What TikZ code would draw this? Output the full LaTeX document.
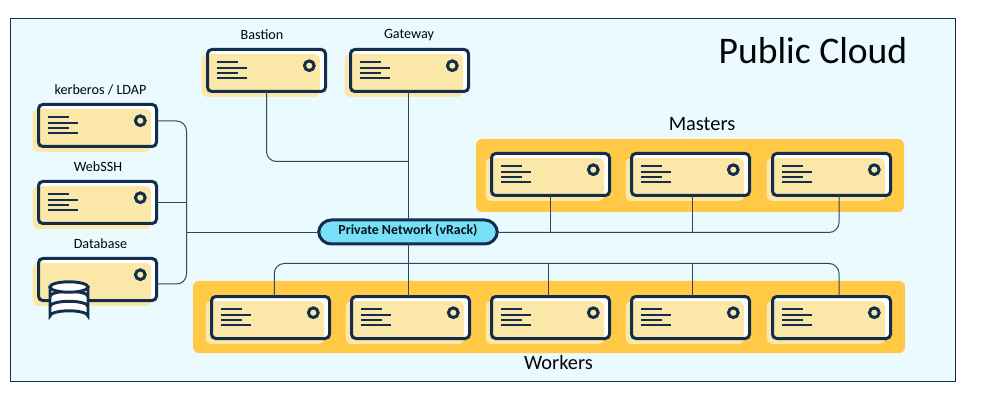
\documentclass[tikz,border=0pt]{standalone}
\usepackage{fontspec}
\setmainfont{Carlito}
\definecolor{navy}{HTML}{122E4C}
\definecolor{panelbg}{HTML}{EBFAFF}
\definecolor{cream}{HTML}{FBE8A8}
\definecolor{amber}{HTML}{FFC845}
\definecolor{sky}{HTML}{78E0F6}
\tikzset{
  frame/.style={draw=navy,line width=2.25pt,rounded corners=3.2pt,minimum width=88.5pt,minimum height=31.5pt,inner sep=0pt,outer sep=0pt},
  wire/.style={draw=navy!88!white,line width=0.75pt,rounded corners=7.5pt},
  lbl/.style={font=\fontsize{10.6pt}{12pt}\selectfont,text=black!90!navy,inner sep=0pt},
  grouplbl/.style={font=\fontsize{15.3pt}{17pt}\selectfont,text=black!90!navy,inner sep=0pt},
  bar/.style={draw=navy,line width=1.3pt},
  ring/.style={draw=navy,line width=2.25pt,fill=cream},
  groupbox/.style={fill=amber,rounded corners=4.5pt},
  dbpart/.style={draw=navy,line width=2.2pt,fill=white}
}
\newcommand{\srvbase}[3]{%
  \fill[white,rounded corners=3.2pt] (#2+1,#3+1) rectangle ++(119,43);
  \fill[cream,rounded corners=4pt] (#2-4.5,#3+6) rectangle (#2+114,#3+49);
  \node[frame] (#1) at (#2+60.5,#3+22.5) {};
  \draw[ring] (#2+103.3,#3+17.7) circle (4.85);
}
\newcommand{\srv}[3]{%
  \srvbase{#1}{#2}{#3}
  \draw[bar] (#2+11,#3+14.3) -- ++(21,0) (#2+11,#3+19.7) -- ++(30,0) (#2+11,#3+24.7) -- ++(21,0) (#2+11,#3+30) -- ++(30,0);
}
\begin{document}
\begin{tikzpicture}[x=0.75pt,y=-0.75pt]
\useasboundingbox (0,0) rectangle (1005,416);
\node[draw=navy,line width=0.9pt,fill=panelbg,minimum width=708.75pt,minimum height=272.25pt,inner sep=0pt,outer sep=0pt] (panel) at (483,200) {};
\node[groupbox,minimum width=321pt,minimum height=54.75pt,inner sep=0pt] (mgroup) at (690,175.5) {};
\node[groupbox,minimum width=534pt,minimum height=54pt,inner sep=0pt] (wgroup) at (549,317) {};
\srv{bastion}{206}{48}
\srv{gateway}{349}{48}
\srv{kerb}{37}{103}
\srv{webssh}{37}{180}
\srvbase{db}{37}{257}
\srv{m1}{490}{152}
\srv{m2}{630}{152}
\srv{m3}{771}{152}
\srv{w1}{210}{295}
\srv{w2}{350}{295}
\srv{w3}{490}{295}
\srv{w4}{630}{295}
\srv{w5}{771}{295}
\node[draw=navy,line width=2.25pt,fill=sky,rounded corners=9.5pt,minimum width=134pt,minimum height=18pt,inner sep=0pt,outer sep=0pt,font=\fontsize{10.4pt}{12pt}\selectfont\bfseries,text=black!60!navy] (net) at (408,232) {\raisebox{3.6pt}{Private Network (vRack)}};
% labels
\node[lbl] (lbast) at (262,35) {Bastion};
\node[lbl] (lgate) at (409,35) {Gateway};
\node[lbl] (lkerb) at (100.5,90) {kerberos / LDAP};
\node[lbl] (lweb) at (98,167) {WebSSH};
\node[lbl] (ldb) at (100.5,244) {Database};
\node[grouplbl] (lm) at (702,124) {Masters};
\node[grouplbl] (lw) at (558.5,362.4) {Workers};
\node[font=\fontsize{28.2pt}{30pt}\selectfont,text=black!90!navy,inner sep=0pt] (ltitle) at (813,51) {Public Cloud};
% junctions
\coordinate (busL) at (186.5,232.5);
\coordinate (bastJ) at (408.3,161.5);
\coordinate (mtap2) at (692.3,232.5);
\coordinate (mend) at (839,232.5);
\coordinate (wtopL) at (274.3,263.5);
\coordinate (wtopR) at (839,263.5);
\coordinate (wtap2) at (408.3,263.5);
\coordinate (wtap3) at (548.3,263.5);
\coordinate (wtap4) at (692.3,263.5);
% left bus
\draw[wire] (kerb.east |- 0,121) -| (busL);
\draw[wire] (db.east |- 0,284) -| (busL);
\draw[wire] (webssh.east) -- (webssh.east -| busL);
\draw[wire] (busL) -- (net.west |- busL);
% top
\draw[wire] (gateway.south -| bastJ) -- (net.north -| bastJ);
\draw[wire] (bastion.south) |- (bastJ);
% masters
\draw[wire] (net.east |- mend) -| (m3.south -| mend);
\draw[wire] (m1.south) -- (m1.south |- mend);
\draw[wire] (m2.south -| mtap2) -- (mtap2);
% workers
\draw[wire] (net.south -| wtap2) -- (w2.north -| wtap2);
\draw[wire] (w1.north -| wtopL) |- (wtopR) -- (w5.north -| wtopR);
\draw[wire] (wtap3) -- (w3.north -| wtap3);
\draw[wire] (wtap4) -- (w4.north -| wtap4);
% database icon
\path[dbpart] (50,287) -- (50,316) arc[start angle=180,end angle=360,x radius=19,y radius=5.2] -- (88,287) -- cycle;
\draw[dbpart,fill=none] (50,296.5) arc[start angle=180,end angle=360,x radius=19,y radius=5.2];
\draw[dbpart,fill=none] (50,306.5) arc[start angle=180,end angle=360,x radius=19,y radius=5.2];
\draw[dbpart] (69,287) ellipse[x radius=19,y radius=5.2];
\end{tikzpicture}
\end{document}
